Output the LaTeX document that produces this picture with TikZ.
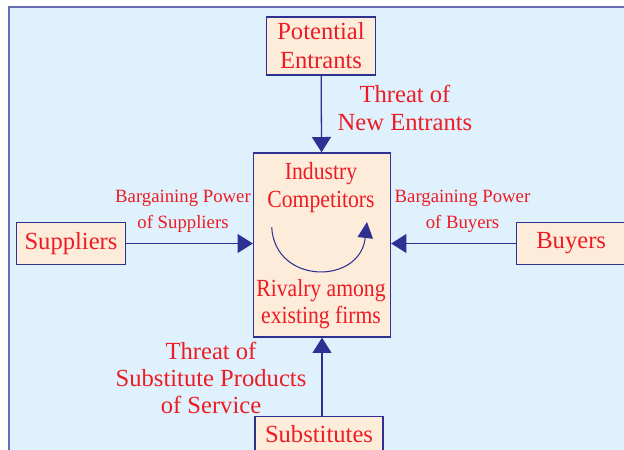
\documentclass[tikz,border=0pt]{standalone}
\usepackage{fontspec}
\setmainfont{Liberation Serif}
\newfontfamily\narrowserif{Liberation Serif}[FakeStretch=0.88]
\usetikzlibrary{arrows.meta}

\definecolor{framebg}{RGB}{223,241,252}
\definecolor{frameline}{RGB}{104,108,178}
\definecolor{boxfill}{RGB}{254,236,218}
\definecolor{boxline}{RGB}{46,49,146}
\definecolor{txtred}{RGB}{237,28,36}

\begin{document}
\begin{tikzpicture}[x=0.03cm, y=-0.03cm,
  box/.style={draw=boxline, line width=1.1pt, fill=boxfill, inner sep=0pt, align=center, text=txtred, font=\fontsize{21}{24.7}\selectfont},
  force/.style={align=center, text=txtred, font=\fontsize{21}{24.5}\selectfont},
  inbox/.style={align=center, text=txtred, font=\narrowserif\fontsize{21}{24}\selectfont},
  power/.style={align=center, text=txtred, font=\fontsize{16}{22}\selectfont},
  arr/.style={-{Triangle[length=4.6mm, width=5.7mm]}, line width=1.1pt, boxline}
]
\useasboundingbox (0,0) rectangle (624,449);
\clip (0,0) rectangle (624,449);
\draw[draw=frameline, line width=1.2pt, fill=framebg] (9,7) rectangle (650,470);

% Boxes
\node[box, minimum width=3.27cm, minimum height=1.74cm] (entrants) at (321,46) {Potential\\Entrants};
\node[box, minimum width=4.11cm, minimum height=5.52cm] (industry) at (322,245) {};
\node[box, minimum width=3.27cm, minimum height=1.25cm] (suppliers) at (71,243.5) {Suppliers};
\node[box, anchor=west, text width=2.42cm, inner xsep=0.59cm, align=left, minimum height=1.25cm] (buyers) at (516,243.5) {Buyers};
\node[box, anchor=north, minimum width=3.84cm, minimum height=1.05cm] (subst) at (319,416) {Substitutes};

% Inside the industry box
\node[inbox] (compet) at (321,188) {Industry\\Competitors};
\node[inbox, font=\narrowserif\fontsize{21}{23}\selectfont] (rivalry) at (321,304) {Rivalry among\\existing firms};
\coordinate (rivA) at (271.7,227.3);
\coordinate (rivB) at (367,222);
\draw[-{Triangle[length=4.8mm, width=4.6mm]}, line width=0.9pt, boxline] (rivA) .. controls (275,285) and (360,285) .. (rivB);

% Arrows
\draw[arr] (entrants) -- (industry);
\draw[arr] (suppliers) -- (suppliers -| industry.west);
\draw[arr] (buyers) -- (buyers -| industry.east);
\draw[arr] (subst.north -| industry) -- (industry.south);

% Labels
\node[force] (newent) at (405,108) {Threat of\\New Entrants};
\node[force, font=\fontsize{21}{23.2}\selectfont] (substlab) at (211,378) {Threat of\\Substitute Products\\of Service};
\node[power] (supplab) at (183,211) {Bargaining Power\\of Suppliers};
\node[power] (buylab) at (462.5,211) {Bargaining Power\\of Buyers};
\end{tikzpicture}
\end{document}
